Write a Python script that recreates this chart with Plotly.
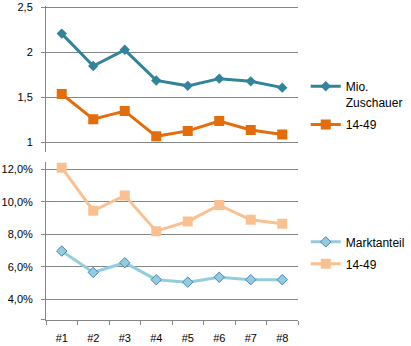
import plotly.graph_objects as go

episodes = ["#1", "#2", "#3", "#4", "#5", "#6", "#7", "#8"]
zuschauer = [2.21, 1.85, 2.03, 1.69, 1.63, 1.71, 1.68, 1.61]
zuschauer_1449 = [1.54, 1.26, 1.35, 1.07, 1.13, 1.24, 1.14, 1.09]
marktanteil = [0.0697, 0.0565, 0.0625, 0.0520, 0.0505, 0.0535, 0.0520, 0.0520]
marktanteil_1449 = [0.1212, 0.0946, 0.1040, 0.0820, 0.0880, 0.0981, 0.0890, 0.0865]

top_ticks = [1, 1.5, 2, 2.5]
bottom_ticks = [0.04, 0.06, 0.08, 0.10, 0.12]

FONT = "Liberation Sans, Arial, sans-serif"
GRID = "#868686"

fig = go.Figure()

fig.add_trace(go.Scatter(
    x=episodes, y=zuschauer, name="Mio.<br>Zuschauer", xaxis="x2", yaxis="y",
    mode="lines+markers", line=dict(color="#31849B", width=3),
    marker=dict(symbol="diamond", size=8, color="#31849B"),
    legend="legend", legendgroup="a"))
fig.add_trace(go.Scatter(
    x=episodes, y=zuschauer_1449, name="14-49", xaxis="x2", yaxis="y",
    mode="lines+markers", line=dict(color="#E46C0A", width=3),
    marker=dict(symbol="square", size=10, color="#E46C0A"),
    legend="legend", legendgroup="b"))
fig.add_trace(go.Scatter(
    x=episodes, y=marktanteil, name="Marktanteil", xaxis="x", yaxis="y2",
    mode="lines+markers", line=dict(color="#93CDDD", width=3),
    marker=dict(symbol="diamond", size=8, color="#93CDDD",
                line=dict(color="#4A7EBB", width=1)),
    legend="legend2", legendgroup="c"))
fig.add_trace(go.Scatter(
    x=episodes, y=marktanteil_1449, name="14-49", xaxis="x", yaxis="y2",
    mode="lines+markers", line=dict(color="#FAC090", width=3),
    marker=dict(symbol="square", size=10, color="#FAC090"),
    legend="legend2", legendgroup="d"))

bottom_lo = 0.0271
axis_common = dict(showline=True, linecolor=GRID, linewidth=1, ticks="outside",
                   ticklen=4, tickcolor=GRID, zeroline=False,
                   ticklabeloverflow="allow",
                   tickfont=dict(family=FONT, size=11, color="#000000"))

# plot area: y pixels 1.5 .. 321
fig.update_layout(
    width=411, height=346,
    margin=dict(l=46, r=104, t=1.5, b=25),
    paper_bgcolor="white", plot_bgcolor="white",
    separators=",.",
    showlegend=True,
    font=dict(family=FONT, size=11, color="#000000"),
    xaxis=dict(domain=[0, 1], anchor="y2", type="category", range=[-0.5, 7.5],
               tickson="boundaries", showgrid=False, ticklabelstandoff=8,
               **axis_common),
    xaxis2=dict(domain=[0, 1], anchor="y", matches="x", visible=False),
    yaxis=dict(domain=[0.5357, 1], range=[0.898, 2.5164], tickmode="array",
               tickvals=top_ticks, showgrid=True, gridcolor=GRID, gridwidth=1,
               ticklabelstandoff=6, **axis_common),
    yaxis2=dict(domain=[0, 0.5047], range=[bottom_lo, 0.125], tickmode="array",
                tickvals=[bottom_lo + 0.0001] + bottom_ticks,
                ticktext=[""] + [f"{v*100:.1f}%".replace(".", ",") for v in bottom_ticks],
                showgrid=True, gridcolor=GRID, gridwidth=1,
                ticklabelstandoff=6, **axis_common),
    legend=dict(x=1.0307, xanchor="left", y=0.79, yanchor="top",
                font=dict(family=FONT, size=12, color="#000000"),
                valign="top", traceorder="grouped", tracegroupgap=4,
                bgcolor="rgba(0,0,0,0)"),
    legend2=dict(x=1.0307, xanchor="left", y=0.295, yanchor="top",
                 font=dict(family=FONT, size=12, color="#000000"),
                 traceorder="grouped", tracegroupgap=3,
                 bgcolor="rgba(0,0,0,0)"),
)

fig.write_html("out.html")
